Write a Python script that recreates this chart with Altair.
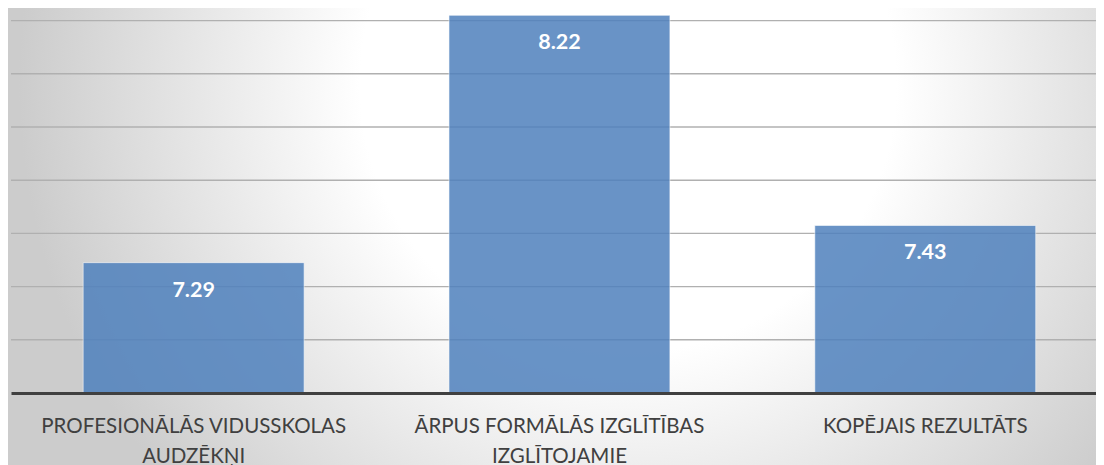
import altair as alt
import pandas as pd

categories = [
    "PROFESIONĀLĀS VIDUSSKOLAS\nAUDZĒKŅI",
    "ĀRPUS FORMĀLĀS IZGLĪTĪBAS\nIZGLĪTOJAMIE",
    "KOPĒJAIS REZULTĀTS",
]
values = [7.29, 8.22, 7.43]
value_labels = ["7.29", "8.22", "7.43"]
gridlines = [7.0, 7.2, 7.4, 7.6, 7.8, 8.0, 8.2]
y_min, y_max = 6.8, 8.2474

W, H = 1085, 385

df = pd.DataFrame({"cat": categories, "val": values, "lab": value_labels})
grid_df = pd.DataFrame({"g": gridlines})

yscale = alt.Scale(domain=[y_min, y_max], zero=False, nice=False)
xscale = alt.Scale(paddingInner=0.396, paddingOuter=0.181, align=0.545)

bg = alt.Chart(alt.Data(values=[{"a": 1}])).mark_rect(
    color={
        "gradient": "radial",
        "x1": 0.57, "y1": 0.36, "r1": 0,
        "x2": 0.57, "y2": 0.36, "r2": 0.56,
        "stops": [
            {"offset": 0, "color": "#ffffff"},
            {"offset": 0.44, "color": "#ffffff"},
            {"offset": 1, "color": "#cccccc"},
        ],
    }
).encode(
    x=alt.value(-3), x2=alt.value(W), y=alt.value(0), y2=alt.value(457)
)

grid = alt.Chart(grid_df).mark_rule(color="#b0b0b0", strokeWidth=1.4).encode(
    y=alt.Y("g:Q", scale=yscale, axis=None)
)

bars = alt.Chart(df).mark_bar(
    color="#4f81bd", opacity=0.85, stroke="#ffffff", strokeWidth=1, strokeOpacity=0.6
).encode(
    x=alt.X(
        "cat:N",
        sort=categories,
        scale=xscale,
        title=None,
        axis=alt.Axis(
            zindex=1,
            labelAngle=0,
            labelExpr="split(datum.label, '\\n')",
            labelFont="Lato",
            labelFontSize=20.5,
            labelColor="#404040",
            labelLineHeight=30,
            labelBaseline="alphabetic",
            labelPadding=39,
            labelLimit=500,
            ticks=False,
            tickSize=0,
            domainColor="#404040",
            domainWidth=3,
            grid=False,
        ),
    ),
    y=alt.Y("val:Q", scale=yscale, axis=None),
    y2=alt.datum(y_min),
)

text = alt.Chart(df).mark_text(
    font="Lato", fontSize=21.5, fontWeight="bold", color="#ffffff", baseline="middle", dy=28
).encode(
    x=alt.X("cat:N", sort=categories, scale=xscale),
    y=alt.Y("val:Q", scale=yscale),
    text="lab:N",
)

chart = alt.layer(bg, grid, bars, text).properties(
    width=W,
    height=H,
    padding={"left": 3, "top": 0, "right": 0, "bottom": 72},
    autosize=alt.AutoSizeParams(type="none"),
).configure_view(stroke=None)

chart.save("out.html", embed_options={"renderer": "svg", "actions": False})
